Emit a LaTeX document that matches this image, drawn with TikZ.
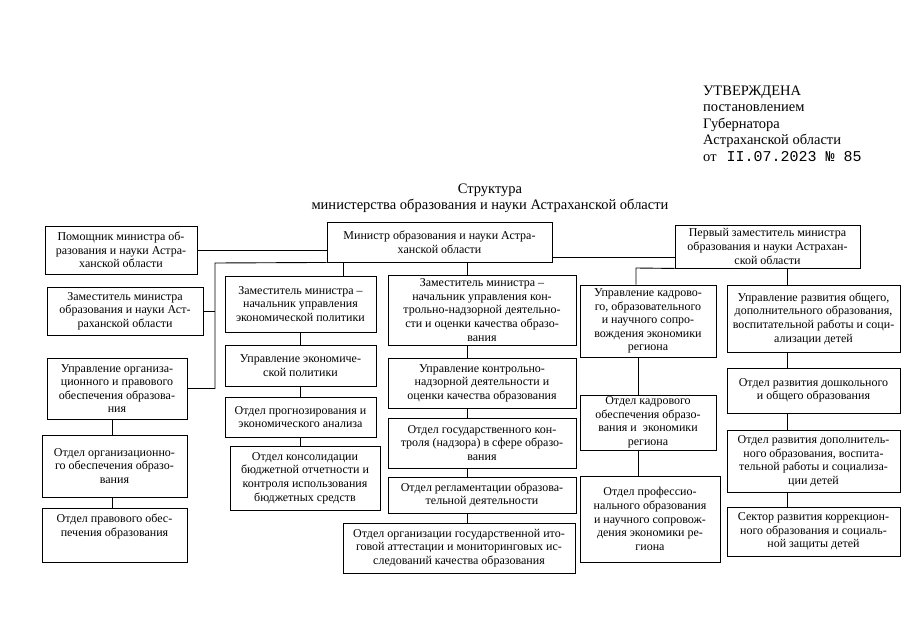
\documentclass[tikz,border=0pt]{standalone}
\usepackage{fontspec}
\setmainfont{Liberation Serif}
\newfontfamily\monof{Liberation Mono}
\begin{document}
\begin{tikzpicture}[x=1pt,y=-1pt,
  box/.style={draw, line width=0.9pt, align=center, inner sep=0pt,
    font=\fontsize{12}{13.6}\selectfont},
  conn/.style={line width=0.9pt},
  hdr/.style={anchor=base west, inner sep=0pt, font=\fontsize{14.5}{16}\selectfont},
  ttl/.style={anchor=base, inner sep=0pt, font=\fontsize{14.5}{16}\selectfont}]
\useasboundingbox (0,0) rectangle (914,640);

% header
\node[hdr] (h1) at (703,95) {УТВЕРЖДЕНА};
\node[hdr] (h2) at (703,111) {постановлением};
\node[hdr] (h3) at (703,128) {Губернатора};
\node[hdr] (h4) at (703,144) {Астраханской области};
\node[hdr] (h5) at (703,161) {от\hspace{10pt}{\monof\fontsize{15}{16}\selectfont II.07.2023 № 85}};

% title
\node[ttl] (t1) at (490,193) {Структура};
\node[ttl] (t2) at (490,209) {министерства образования и науки Астраханской области};

% top level
\node[box, minimum width=152, minimum height=48] (pom) at (121,250)
  {Помощник министра об-\\разования и науки Астра-\\ханской области};
\node[box, minimum width=225, minimum height=40] (min) at (439.5,242)
  {Министр образования и науки Астра-\\ханской области};
\node[box, minimum width=185, minimum height=43] (first) at (767.5,246.5)
  {Первый заместитель министра\\образования и науки Астрахан-\\ской области};

% left column
\node[box, minimum width=156, minimum height=48] (zam) at (125,311)
  {Заместитель министра\\образования и науки Аст-\\раханской области};
\node[box, minimum width=140, minimum height=61] (uorg) at (117,388.5)
  {Управление организа-\\ционного и правового\\обеспечения образова-\\ния};
\node[box, minimum width=145, minimum height=62] (oorg) at (114.5,466)
  {Отдел организационно-\\го обеспечения образо-\\вания};
\node[box, minimum width=145, minimum height=54] (oprav) at (114.5,535)
  {Отдел правового обес-\\печения образования\\[6pt]};

% economic column
\node[box, minimum width=151, minimum height=56] (zecon) at (300.5,304)
  {Заместитель министра –\\начальник управления\\экономической политики};
\node[box, minimum width=151, minimum height=41] (uecon) at (300.5,365.5)
  {Управление экономиче-\\ской политики};
\node[box, minimum width=151, minimum height=40] (oprog) at (300.5,417)
  {Отдел прогнозирования и\\экономического анализа};
\node[box, minimum width=150, minimum height=64] (okons) at (305,478)
  {Отдел консолидации\\бюджетной отчетности и\\контроля использования\\бюджетных средств};

% control column
\node[box, minimum width=188, minimum height=70] (zkon) at (482,310)
  {Заместитель министра –\\начальник управления кон-\\трольно-надзорной деятельно-\\сти и оценки качества образо-\\вания};
\node[box, minimum width=188, minimum height=50] (ukon) at (482,383)
  {Управление контрольно-\\надзорной деятельности и\\оценки качества образования};
\node[box, minimum width=188, minimum height=50] (ogos) at (482,443)
  {Отдел государственного кон-\\троля (надзора) в сфере образо-\\вания};
\node[box, minimum width=188, minimum height=36] (oregl) at (482,495)
  {Отдел регламентации образова-\\тельной деятельности};
\node[box, minimum width=232, minimum height=50] (oitog) at (459,548)
  {Отдел организации государственной ито-\\говой аттестации и мониторинговых ис-\\следований качества образования};

% cadre column
\node[box, minimum width=136, minimum height=72] (ukadr) at (648,321)
  {Управление кадрово-\\го, образовательного\\и научного сопро-\\вождения экономики\\региона};
\node[box, minimum width=136, minimum height=55] (okadr) at (648,422.5)
  {Отдел кадрового\\обеспечения образо-\\вания и\ \ экономики\\региона};
\node[box, minimum width=140, minimum height=86] (oprof) at (650,519)
  {Отдел профессио-\\нального образования\\и научного сопровож-\\дения экономики ре-\\гиона};

% development column
\node[box, minimum width=173, minimum height=67] (urazv) at (813.5,318.5)
  {Управление развития общего,\\дополнительного образования,\\воспитательной работы и соци-\\ализации детей};
\node[box, minimum width=173, minimum height=45] (odosh) at (813.5,390.5)
  {Отдел развития дошкольного\\и общего образования};
\node[box, minimum width=173, minimum height=62] (odop) at (813.5,461)
  {Отдел развития дополнитель-\\ного образования, воспита-\\тельной работы и социализа-\\ции детей};
\node[box, minimum width=173, minimum height=49] (sekt) at (813.5,531.5)
  {Сектор развития коррекцион-\\ного образования и социаль-\\ной защиты детей};

% helper coordinates
\coordinate (bus) at (215,263);
\coordinate (m1) at (343,262);
\coordinate (m2) at (467,262);
\coordinate (m3) at (552,257);
\coordinate (f1) at (636,268);
\coordinate (f2) at (787,268);
\coordinate (k4) at (638,0);
\coordinate (l1) at (112,0);

% connectors
\draw[conn] (pom.east) -- (pom.east -| min.west);
\draw[conn] (min.south west) -- (bus) -- (bus |- uorg.east) -- (uorg.east);
\draw[conn] (zam.east) -- (zam.east -| bus);
\draw[conn] (m1) -- (m1 |- zecon.north);
\draw[conn] (zecon.south) -- (uecon.north);
\draw[conn] (uecon.south) -- (oprog.north);
\draw[conn] (oprog.south) -- (oprog.south |- okons.north);
\draw[conn] (m2) -- (m2 |- zkon.north);
\draw[conn] (m2 |- zkon.south) -- (m2 |- ukon.north);
\draw[conn] (m2 |- ukon.south) -- (m2 |- ogos.north);
\draw[conn] (m2 |- ogos.south) -- (m2 |- oregl.north);
\draw[conn] (m2 |- oregl.south) -- (m2 |- oitog.north);
\draw[conn] (m3) -- (m3 -| first.west);
\draw[conn] (first.south west) -- (f1) -- (f1 |- ukadr.north);
\draw[conn] (f2) -- (f2 |- urazv.north);
\draw[conn] (k4 |- ukadr.south) -- (k4 |- okadr.north);
\draw[conn] (k4 |- okadr.south) -- (k4 |- oprof.north);
\draw[conn] (f2 |- urazv.south) -- (f2 |- odosh.north);
\draw[conn] (f2 |- odosh.south) -- (f2 |- odop.north);
\draw[conn] (f2 |- odop.south) -- (f2 |- sekt.north);
\draw[conn] (l1 |- uorg.south) -- (l1 |- oorg.north);
\draw[conn] (l1 |- oorg.south) -- (l1 |- oprav.north);
\end{tikzpicture}
\end{document}
